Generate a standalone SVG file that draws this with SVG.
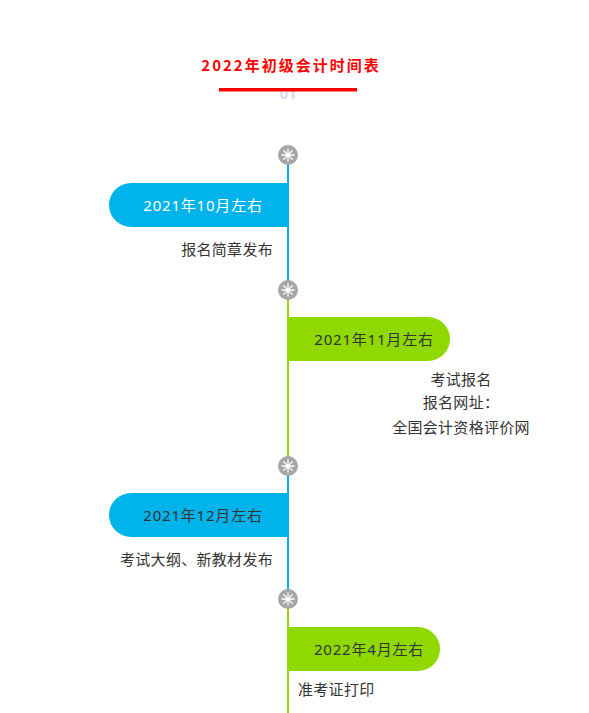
<svg xmlns="http://www.w3.org/2000/svg" width="589" height="713" viewBox="0 0 589 713">
<defs>
<style>
.t{font-family:"Noto Sans","Noto Sans CJK SC",sans-serif;font-size:15px;fill:#333;letter-spacing:0.3px}
.d{letter-spacing:0.8px}
.title{font-family:"Noto Sans CJK SC",sans-serif;font-size:15px;font-weight:bold;fill:#ff0000;letter-spacing:2px}
.blue{fill:#00b4eb}
.green{fill:#8fd800}
.ico{fill:#a6a6a6}
.ray{stroke:#ffffff;stroke-width:1.3;stroke-linecap:round}
</style>
<g id="star">
<circle r="10" class="ico"/>
<g class="ray">
<line x1="0" y1="-6" x2="0" y2="6"/>
<line x1="-6" y1="0" x2="6" y2="0"/>
<line x1="-4.2" y1="-4.2" x2="4.2" y2="4.2"/>
<line x1="-4.2" y1="4.2" x2="4.2" y2="-4.2"/>
</g>
<circle r="2" fill="#ffffff"/>
</g>
</defs>
<rect width="589" height="713" fill="#ffffff"/>
<g id="header">
<text x="288" y="99" text-anchor="middle" font-family="Noto Sans, sans-serif" font-size="15" font-weight="bold" fill="#d3dcec">01</text>
<rect x="219" y="88" width="138" height="3.5" fill="#ff0000"/>
<text x="291" y="71" text-anchor="middle" class="title">2022年初级会计时间表</text>
</g>
<g id="connectors">
<line x1="288" y1="155" x2="288" y2="290" stroke="#00b4eb" stroke-width="2"/>
<line x1="288" y1="290" x2="288" y2="466" stroke="#8fd800" stroke-width="2"/>
<line x1="288" y1="466" x2="288" y2="599" stroke="#00b4eb" stroke-width="2"/>
<line x1="288" y1="599" x2="288" y2="713" stroke="#8fd800" stroke-width="2"/>
</g>
<g id="icons">
<use href="#star" x="288" y="155"/>
<use href="#star" x="288" y="290"/>
<use href="#star" x="288" y="466"/>
<use href="#star" x="288" y="599"/>
</g>
<g id="node1">
<path class="blue" d="M131,183 H289 V227 H131 A22,22 0 0 1 131,183 Z"/>
<text x="203" y="211" text-anchor="middle" class="t d" style="fill:#ffffff">2021年10月左右</text>
<text x="273" y="255" text-anchor="end" class="t">报名简章发布</text>
</g>
<g id="node2">
<path class="green" d="M287,317 H428 A22,22 0 0 1 428,361 H287 Z"/>
<text x="374" y="345" text-anchor="middle" class="t d">2021年11月左右</text>
<text x="461" y="385" text-anchor="middle" class="t">考试报名</text>
<text x="461" y="408" text-anchor="middle" class="t">报名网址：</text>
<text x="461" y="433" text-anchor="middle" class="t">全国会计资格评价网</text>
</g>
<g id="node3">
<path class="blue" d="M131,493 H289 V537 H131 A22,22 0 0 1 131,493 Z"/>
<text x="203" y="521" text-anchor="middle" class="t d">2021年12月左右</text>
<text x="273" y="565" text-anchor="end" class="t">考试大纲、新教材发布</text>
</g>
<g id="node4">
<path class="green" d="M287,627 H418 A22,22 0 0 1 418,671 H287 Z"/>
<text x="369" y="655" text-anchor="middle" class="t d">2022年4月左右</text>
<text x="298" y="695" class="t">准考证打印</text>
</g>
</svg>
